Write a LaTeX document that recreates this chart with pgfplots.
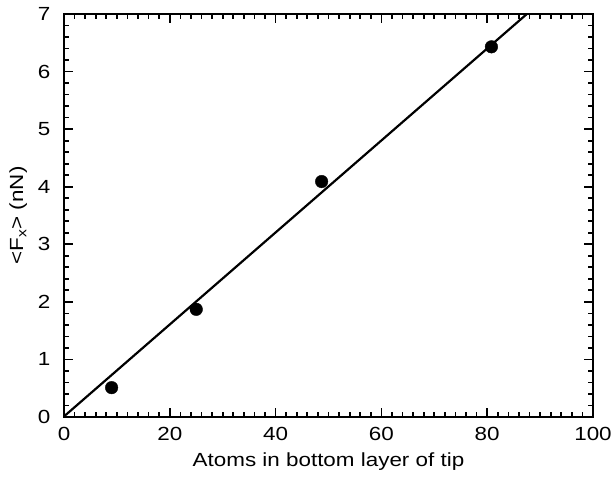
\documentclass[border=0pt]{standalone}
\usepackage{fontspec}
\setmainfont{Liberation Sans}[FakeStretch=1.18]
\usepackage{pgfplots}
\pgfplotsset{compat=1.18}

\begin{document}
\fontsize{19bp}{22bp}\selectfont
\begin{tikzpicture}
\begin{axis}[
    scale only axis,
    width=529bp,
    height=403bp,
    xmin=0, xmax=100,
    ymin=0, ymax=7,
    xtick={0,20,...,100},
    ytick={0,1,...,7},
    minor x tick num=9,
    minor y tick num=4,
    tick align=inside,
    major tick length=9bp,
    minor tick length=5bp,
    every tick/.style={black, line width=1.7pt},
    axis line style={line width=2.3pt},
    tick label style={font=\fontsize{19bp}{22bp}\selectfont},
    xticklabel style={yshift=-4bp},
    yticklabel style={xshift=-7bp},
    /pgf/number format/assume math mode=true,
    xlabel={Atoms in bottom layer of tip},
    ylabel={<F\textsubscript{x}> (nN)},
    label style={font=\fontsize{19bp}{22bp}\selectfont},
    xlabel style={yshift=1bp},
    ylabel style={yshift=-2bp},
]
% linear fit
\addplot[black, line width=2.2pt] coordinates {(0,0.01) (87.5,7)};
% simulation points
\addplot[only marks, mark=*, mark size=6.3bp, black] coordinates {
    (9,0.51) (25,1.87) (48.7,4.09) (80.8,6.43)
};
\end{axis}
\pgfresetboundingbox
\path (-64bp,-64bp) rectangle (548bp,417bp);
\end{tikzpicture}
\end{document}
